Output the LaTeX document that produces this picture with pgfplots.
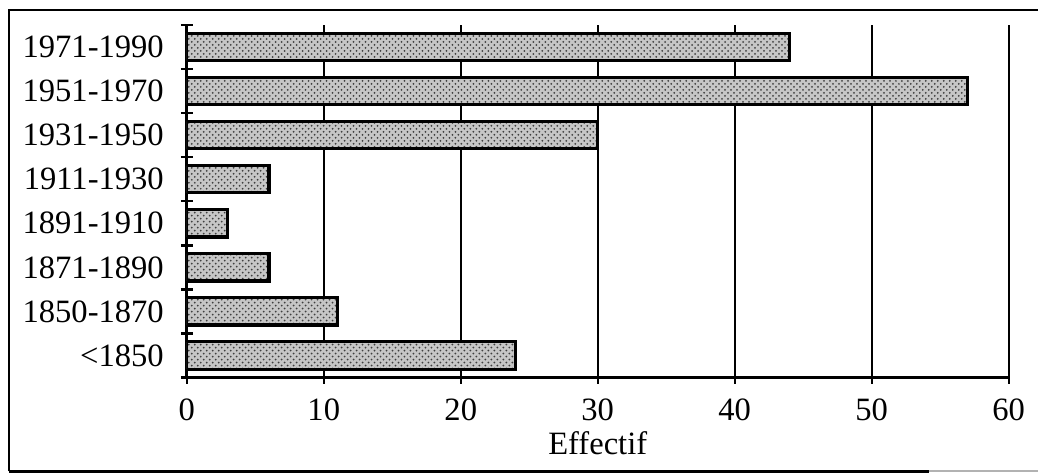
\documentclass[border=0pt]{standalone}
\usepackage{pgfplots}
\pgfplotsset{compat=1.18}
\usetikzlibrary{patterns}
\usepackage{fontspec}
\setmainfont{Liberation Serif}
\begin{document}
\begin{tikzpicture}
\path (0pt,0pt) rectangle (519.5pt,237pt);
\draw[line width=1.3pt] (4.5pt,1pt) -- (4.5pt,232pt) -- (519.5pt,232pt);
\draw[line width=1.3pt] (4.5pt,1pt) -- (465pt,1pt);
\draw[line width=1.0pt,gray!60] (465pt,1pt) -- (519.5pt,1pt);
\begin{axis}[
  at={(93.5pt,48pt)}, anchor=south west,
  scale only axis, width=411.5pt, height=176.5pt,
  xbar, bar width=0.62,
  xmin=0, xmax=60, ymin=-0.5, ymax=7.5,
  axis lines*=left,
  axis line style={line width=1.3pt},
  xtick={0,10,...,60},
  ytick={0,...,7},
  yticklabels={<1850,1850-1870,1871-1890,1891-1910,1911-1930,1931-1950,1951-1970,1971-1990},
  minor ytick={-0.5,0.5,...,7.5},
  tick align=center,
  major tick length=6pt,
  minor tick length=6pt,
  major y tick style={draw=none},
  minor y tick style={line width=1.2pt, black},
  major x tick style={line width=1.2pt, black},
  xmajorgrids,
  grid style={black, line width=1.2pt},
  tick label style={font=\fontsize{16.3}{19}\selectfont},
  /pgf/number format/assume math mode=true,
  xticklabel style={yshift=-4pt},
  yticklabel style={xshift=-5pt},
  xlabel={Effectif},
  xlabel style={font=\fontsize{16.3}{19}\selectfont, at={(axis description cs:0.5,0)}, anchor=base, yshift=-38.5pt},
]
\addplot[draw=black, line width=1.6pt, fill=gray!45, postaction={pattern=crosshatch dots, pattern color=black!75}]
  coordinates {(24,0) (11,1) (6,2) (3,3) (6,4) (30,5) (57,6) (44,7)};
\end{axis}
\end{tikzpicture}
\end{document}
